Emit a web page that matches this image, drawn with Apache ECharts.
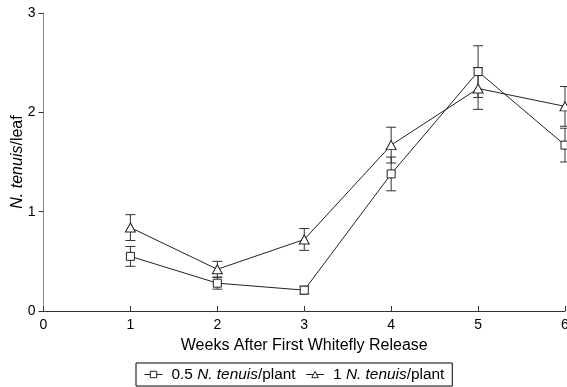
<!DOCTYPE html>
<html><head><meta charset="utf-8">
<script src="https://cdn.jsdelivr.net/npm/echarts@6/dist/echarts.min.js"></script>
<style>html,body{margin:0;padding:0;background:#fff}#c{width:567px;height:387px}</style>
</head><body><div id="c"></div>
<script>
var weeks = [1, 2, 3, 4, 5, 6];
var lowMean = [0.55, 0.28, 0.21, 1.38, 2.41, 1.67];
var lowErr = [0.10, 0.06, 0.04, 0.17, 0.26, 0.17];
var highMean = [0.84, 0.42, 0.72, 1.67, 2.24, 2.06];
var highErr = [0.13, 0.08, 0.11, 0.18, 0.21, 0.20];
var xTicks = [0, 1, 2, 3, 4, 5, 6];
var yTicks = [0, 1, 2, 3];

function pts(m){ return weeks.map(function(w,i){ return [w, m[i]]; }); }
function errData(m,e){ return weeks.map(function(w,i){ return [w, m[i]-e[i], m[i]+e[i]]; }); }
function errSeries(m,e){
  return {
    type:'custom', silent:true, z:1,
    data: errData(m,e),
    renderItem: function(params, api){
      var x = api.value(0);
      var lo = api.coord([x, api.value(1)]);
      var hi = api.coord([x, api.value(2)]);
      var hw = 5;
      var st = {stroke:'#333', lineWidth:1};
      return {type:'group', children:[
        {type:'line', shape:{x1:lo[0], y1:lo[1], x2:hi[0], y2:hi[1]}, style:st},
        {type:'line', shape:{x1:lo[0]-hw, y1:lo[1], x2:lo[0]+hw, y2:lo[1]}, style:st},
        {type:'line', shape:{x1:hi[0]-hw, y1:hi[1], x2:hi[0]+hw, y2:hi[1]}, style:st}
      ]};
    }
  };
}
var chart = echarts.init(document.getElementById('c'));
var rich = {
  f:{fontFamily:'Liberation Sans', fontSize:15.4, color:'#000', padding:[0,0,0,4]},
  i:{fontStyle:'italic', fontFamily:'Liberation Sans', fontSize:15.4, color:'#000'},
  n:{fontFamily:'Liberation Sans', fontSize:15.4, color:'#000'}
};
chart.setOption({
  animation:false,
  grid:{left:43.5, right:2, top:13, bottom:76, containLabel:false, outerBoundsMode:'none'},
  legend:{
    bottom:1, left:136,
    borderColor:'#000', borderWidth:1, padding:[4,8,4,8],
    itemWidth:18, itemHeight:8, itemGap:10,
    lineStyle:{width:1},
    itemStyle:{color:'#fff', borderColor:'#222', borderWidth:1},
    data:['low','high'],
    formatter:function(n){ return n==='low' ? '{f|0.5 }{i|N. tenuis}{n|/plant}' : '{f|1 }{i|N. tenuis}{n|/plant}'; },
    textStyle:{rich:rich}
  },
  xAxis:{
    type:'value', min:0, max:6, interval:1,
    name:'Weeks After First Whitefly Release', nameLocation:'middle', nameGap:27,
    nameTextStyle:{fontFamily:'Liberation Sans', fontSize:16, color:'#000'},
    axisLine:{lineStyle:{color:'#333'}},
    axisTick:{inside:true, length:5, lineStyle:{color:'#333'}},
    axisLabel:{fontFamily:'Liberation Sans', fontSize:14, color:'#000', margin:7,
      formatter:function(v){ return xTicks.indexOf(v)>=0 ? String(v) : ''; }},
    splitLine:{show:false}
  },
  yAxis:{
    type:'value', min:0, max:3, interval:1,
    name:'{i|N. tenuis}{n|/leaf}', nameLocation:'middle', nameGap:18, nameRotate:90, nameMoveOverlap:false,
    nameTextStyle:{rich:{i:{fontStyle:'italic', fontFamily:'Liberation Sans', fontSize:16, color:'#000'}, n:{fontFamily:'Liberation Sans', fontSize:16, color:'#000'}}},
    axisLine:{show:true, lineStyle:{color:'#888'}},
    axisTick:{show:true, length:5, lineStyle:{color:'#333'}},
    axisLabel:{fontFamily:'Liberation Sans', fontSize:14, color:'#000', margin:8,
      formatter:function(v){ return yTicks.indexOf(v)>=0 ? String(v) : ''; }},
    splitLine:{show:false}
  },
  series:[
    errSeries(lowMean, lowErr),
    errSeries(highMean, highErr),
    {name:'low', type:'line', data:pts(lowMean), symbol:'rect', symbolSize:8, z:3,
      lineStyle:{color:'#222', width:1}, itemStyle:{color:'#fff', borderColor:'#222', borderWidth:1}},
    {name:'high', type:'line', data:pts(highMean), symbol:'triangle', symbolSize:[10,9], z:3,
      lineStyle:{color:'#222', width:1}, itemStyle:{color:'#fff', borderColor:'#222', borderWidth:1}}
  ]
});
</script></body></html>
